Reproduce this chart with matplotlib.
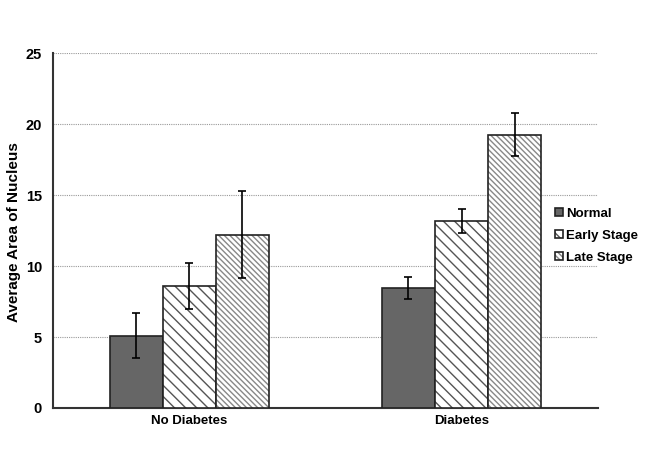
import matplotlib
matplotlib.use("Agg")
import matplotlib.pyplot as plt
import numpy as np

plt.rcParams['font.family'] = ['Liberation Sans', 'DejaVu Sans']
plt.rcParams['font.weight'] = 'bold'
plt.rcParams['hatch.linewidth'] = 1.0

categories = ["No Diabetes", "Diabetes"]
series = ["Normal", "Early Stage", "Late Stage"]
values = {
    "Normal": [5.1, 8.45],
    "Early Stage": [8.6, 13.15],
    "Late Stage": [12.2, 19.25],
}
errors = {
    "Normal": [1.6, 0.8],
    "Early Stage": [1.6, 0.85],
    "Late Stage": [3.05, 1.5],
}
yticks = [0, 5, 10, 15, 20, 25]

styles = {
    "Normal": dict(facecolor="#666666", hatch=None),
    "Early Stage": dict(facecolor="white", hatch="\\\\\\"),
    "Late Stage": dict(facecolor="white", hatch="\\\\\\\\\\\\"),
}
hatch_colors = {"Normal": "#333333", "Early Stage": "#555555", "Late Stage": "#888888"}

fig = plt.figure(figsize=(6.49, 4.55), dpi=100)
ax = fig.add_axes([0.0817, 0.1033, 0.8393, 0.7802])

x = np.arange(len(categories))
w = 0.195
for i, s in enumerate(series):
    pos = x + (i - 1) * w
    bars = ax.bar(pos, values[s], width=w, facecolor=styles[s]["facecolor"],
                  hatch=styles[s]["hatch"], edgecolor="#222222", linewidth=1.2,
                  label=s, zorder=3)
    for b in bars:
        b._hatch_color = matplotlib.colors.to_rgba(hatch_colors[s])
    ax.errorbar(pos, values[s], yerr=errors[s], fmt="none", ecolor="black",
                elinewidth=1.2, capsize=3, capthick=1.2, zorder=4)

ax.set_xlim(-0.5, 1.5)
ax.set_ylim(0, 25)
ax.set_yticks(yticks)
ax.set_xticks(x)
ax.set_xticklabels(categories, fontsize=9.5, fontweight='bold')
ax.tick_params(axis='y', labelsize=10.5, length=0, pad=8)
ax.tick_params(axis='x', length=0, pad=5)
for lab in ax.get_yticklabels():
    lab.set_fontweight('bold')
ax.yaxis.grid(True, linestyle=(0, (1, 1)), color="#999999", linewidth=0.8, zorder=0)
ax.set_axisbelow(True)
for sp in ["top", "right"]:
    ax.spines[sp].set_visible(False)
for sp in ["left", "bottom"]:
    ax.spines[sp].set_color("#333333")
    ax.spines[sp].set_linewidth(1.5)
ax.set_ylabel("Average Area of Nucleus", fontsize=11, fontweight='bold')
ax.yaxis.set_label_coords(-0.058, 0.497)

leg = ax.legend(loc="center left", bbox_to_anchor=(0.9, 0.485), frameon=False,
                fontsize=9.5, handlelength=0.6, handleheight=0.6, handletextpad=0.2,
                labelspacing=0.75)
for t in leg.get_texts():
    t.set_fontweight('bold')

fig.savefig("out.png", dpi=100)
